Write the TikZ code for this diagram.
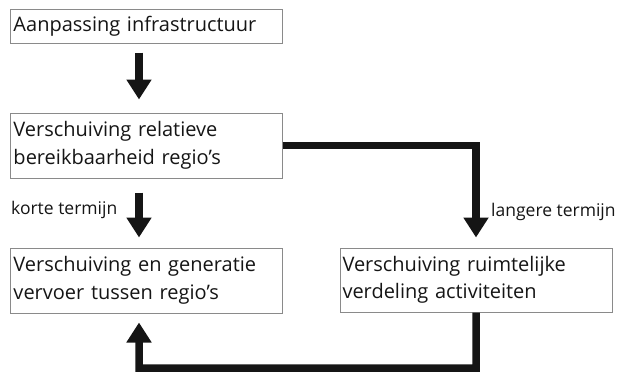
\documentclass[tikz,border=0pt]{standalone}
\usepackage{fontspec}
\setmainfont{Open Sans}
\usetikzlibrary{arrows.meta}
\definecolor{boxline}{HTML}{8A8A8A}
\definecolor{ink}{HTML}{151515}
\tikzset{
  box/.style={draw=boxline, line width=1bp, rectangle, inner xsep=2.5bp, inner ysep=0bp,
    align=left, text=ink, font=\fontsize{20bp}{27.5bp}\selectfont},
  fat/.style={draw=ink, line width=7.5bp, line join=miter,
    -{Triangle[width=24bp,length=20bp]}},
  lbl/.style={text=ink, font=\fontsize{17.5bp}{20bp}\selectfont, inner sep=0pt}
}
\begin{document}
\begin{tikzpicture}[x=1bp,y=-1bp]
\useasboundingbox (0,0) rectangle (622,371);
\node[box, minimum width=271bp, minimum height=34bp, text width=266bp] (b1) at (146.5,26) {Aanpassing infrastructuur};
\node[box, minimum width=271bp, minimum height=65bp, text width=266bp] (b2) at (146.5,145.5) {Verschuiving relatieve\\bereikbaarheid regio’s};
\node[box, minimum width=271bp, minimum height=65bp, text width=266bp] (b3) at (146.5,280.5) {Verschuiving en generatie\\vervoer tussen regio’s};
\node[box, minimum width=272bp, minimum height=64bp, text width=267bp] (b4) at (476,280) {Verschuiving ruimtelijke\\verdeling activiteiten};
\coordinate (r1) at (476,145.5);
\coordinate (q1) at (476,368);
\coordinate (q2) at (139,368);
\draw[fat] ([xshift=-7.5bp,yshift=-9bp]b1.south) -- ([xshift=-7.5bp,yshift=13bp]b2.north);
\draw[fat] ([xshift=-7.5bp,yshift=-14bp]b2.south) -- ([xshift=-7.5bp,yshift=10bp]b3.north);
\draw[fat] (b2.east) -- (r1) -- ([yshift=10bp]b4.north);
\draw[fat] (b4.south) -- (q1) -- (q2) -- ([xshift=-7.5bp,yshift=-9bp]b3.south);
\node[lbl, anchor=west] (k) at (11,210) {korte termijn};
\node[lbl, anchor=west] (l) at (491,212) {langere termijn};
\end{tikzpicture}
\end{document}
